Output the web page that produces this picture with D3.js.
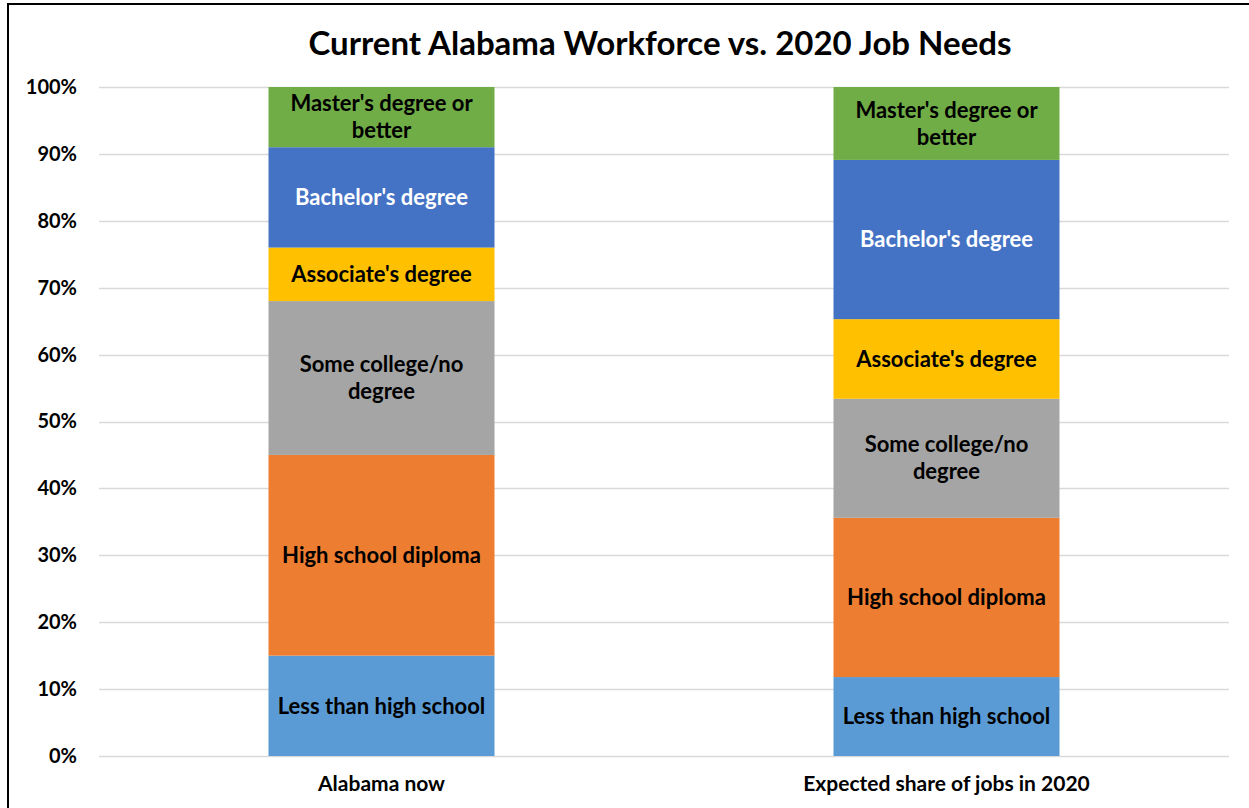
<!DOCTYPE html>
<html>
<head>
<meta charset="utf-8">
<script src="https://cdn.jsdelivr.net/npm/d3@7"></script>
<style>
  html, body { margin: 0; padding: 0; background: #fff; }
  svg { display: block; }
  text { font-family: Lato, "Open Sans", sans-serif; font-weight: bold; }
</style>
</head>
<body>
<svg id="chart" width="1249" height="808"></svg>
<script>
const title = "Current Alabama Workforce vs. 2020 Job Needs";
const groups = ["Alabama now", "Expected share of jobs in 2020"];
const categories = ["Less than high school", "High school diploma", "Some college/no degree",
                    "Associate's degree", "Bachelor's degree", "Master's degree or better"];
const labelLines = [["Less than high school"], ["High school diploma"], ["Some college/no", "degree"],
                    ["Associate's degree"], ["Bachelor's degree"], ["Master's degree or", "better"]];
const alabamaNow = [15, 30, 23, 8, 15, 9];
const expected2020 = [11.8, 23.8, 17.8, 11.9, 23.8, 10.9];
const colors = ["#5B9BD5", "#ED7D31", "#A5A5A5", "#FFC000", "#4472C4", "#70AD47"];
const labelColors = ["#000", "#000", "#000", "#000", "#fff", "#000"];
const yTicks = [0, 10, 20, 30, 40, 50, 60, 70, 80, 90, 100];

const svg = d3.select("#chart");
const margin = {left: 99, top: 87};
const plotRight = 1229;
const plotBottom = 756;

// outer frame
svg.append("rect").attr("x", 8).attr("y", 4).attr("width", 1300).attr("height", 900)
  .attr("fill", "none").attr("stroke", "#000").attr("stroke-width", 2);

const x = d3.scaleBand().domain(groups).range([margin.left, plotRight]).paddingInner(0.6).paddingOuter(0.3);
const y = d3.scaleLinear().domain([0, 100]).range([plotBottom, margin.top]);

// gridlines
svg.append("g").selectAll("line").data(yTicks).join("line")
  .attr("x1", margin.left).attr("x2", plotRight)
  .attr("y1", d => Math.round(y(d)) + 0.5).attr("y2", d => Math.round(y(d)) + 0.5)
  .attr("stroke", "#D9D9D9").attr("stroke-width", 1.5);

// y axis
const yAxis = d3.axisLeft(y).tickValues(yTicks).tickFormat(d => d + "%").tickSize(0).tickPadding(0);
const ya = svg.append("g").attr("transform", `translate(77,0)`).call(yAxis);
ya.select(".domain").remove();
ya.selectAll("text").attr("font-size", 20).attr("fill", "#000")
  .style("font-family", "Lato, 'Open Sans', sans-serif").style("font-weight", "bold");

// x axis
const xAxis = d3.axisBottom(x).tickSize(0).tickPadding(0);
const xa = svg.append("g").attr("transform", `translate(0,${plotBottom + 20})`).call(xAxis);
xa.select(".domain").remove();
xa.selectAll("text").attr("font-size", 21).attr("fill", "#000").attr("dy", "0.71em")
  .style("font-family", "Lato, 'Open Sans', sans-serif").style("font-weight", "bold");

// stacked data
const series = [alabamaNow, expected2020];
const rows = [];
series.forEach((vals, gi) => {
  let cum = 0;
  vals.forEach((v, ci) => {
    rows.push({group: groups[gi], ci, y0: cum, y1: cum + v});
    cum += v;
  });
});

svg.append("g").selectAll("rect").data(rows).join("rect")
  .attr("x", d => x(d.group))
  .attr("width", x.bandwidth())
  .attr("y", d => y(d.y1))
  .attr("height", d => y(d.y0) - y(d.y1))
  .attr("fill", d => colors[d.ci]);

// segment labels
const lg = svg.append("g");
rows.forEach(d => {
  const lines = labelLines[d.ci];
  const cx = x(d.group) + x.bandwidth() / 2;
  const cy = (y(d.y0) + y(d.y1)) / 2;
  const lh = 27;
  const t = lg.append("text").attr("text-anchor", "middle").attr("font-size", 22)
    .attr("fill", labelColors[d.ci]);
  lines.forEach((ln, i) => {
    t.append("tspan").attr("x", cx)
      .attr("y", cy + (i - (lines.length - 1) / 2) * lh)
      .attr("dy", "0.35em").text(ln);
  });
});

// title
svg.append("text").attr("x", 660).attr("y", 55).attr("text-anchor", "middle")
  .attr("font-size", 33).attr("fill", "#000").text(title);
</script>
</body>
</html>
